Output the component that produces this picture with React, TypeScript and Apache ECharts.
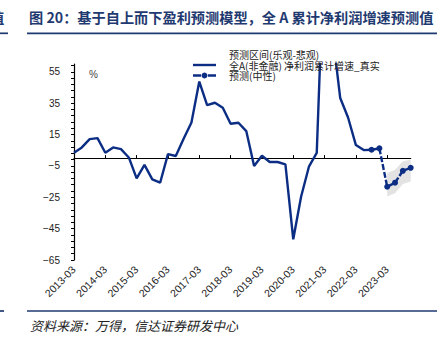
import React, { useEffect, useRef } from "react";
import * as echarts from "echarts";

const categories: string[] = [];
for (let y = 2013; y <= 2023; y++) {
  for (const m of ["03", "06", "09", "12"]) categories.push(`${y}-${m}`);
}

// 真实值 2013-03 .. 2022-09
const realValues: number[] = [
  3.4, 6.8, 12.1, 12.7, 3.4, 6.8, 5.7, 0.4, -12.9, -4.3, -13.6, -15.7,
  2.5, 1.3, 12.3, 22.7, 48.8, 33.8, 35.3, 32.1, 21.9, 22.5, 17.2, -5.1,
  1.5, -2.5, -2.5, -4.0, -51.8, -24.7, -5.5, 3.3, 140, 80, 38.3, 25.9,
  8.3, 5.1, 5.3,
];
// 预测(中性) 2022-09 .. 2023-12
const forecastStart = 38;
const forecastValues: number[] = [5.3, 6.2, -18.3, -15.7, -8.1, -6.2];
// 预测区间 2023-03 .. 2023-12
const bandStart = 40;
const bandLow: number[] = [-24.5, -22.5, -16.5, -15];
const bandHigh: number[] = [-9.5, -7.5, -2, -1];

const yLabels: number[] = [-65, -45, -25, -5, 15, 35, 55];

const NAVY = "#0b2d84";
const TITLE = "#1f3a70";
const nameBand = "预测区间(乐观-悲观)";
const nameReal = "全A(非金融) 净利润累计增速_真实";
const nameFc = "预测(中性)";

function pad(start: number, arr: number[]): (number | string)[] {
  return categories.map((_, i) =>
    i >= start && i < start + arr.length ? arr[i - start] : "-"
  );
}

const iconReal = "path://M0,0H23V2.4H0Z";
const iconFc =
  "path://M0,2.8H8V5.2H0Z M15,2.8H23V5.2H15Z M11.5,1A3,3 0 1,1 11.49,1Z";

export default function App() {
  const ref = useRef<HTMLDivElement>(null);
  useEffect(() => {
    document.body.style.margin = "0";
    const chart = echarts.init(ref.current!, null, { renderer: "svg" });
    const yTicks: number[] = [];
    for (let v = -65; v <= 60; v += 4) yTicks.push(v);
    const font = "'Liberation Sans', Arial, sans-serif";
    const cjk = "'Noto Sans CJK SC', sans-serif";
    chart.setOption({
      animation: false,
      grid: { left: 74, right: 29.3, top: 64, bottom: 78, containLabel: false },
      legend: {
        orient: "vertical",
        left: 193,
        top: 49.5,
        itemGap: 0.5,
        itemWidth: 23,
        itemHeight: 10,
        padding: 0,
        textStyle: { fontSize: 10, color: "#222", fontFamily: cjk, padding: [0, 0, 0, 8] },
        data: [
          { name: nameBand, icon: "none" },
          { name: nameReal, icon: iconReal },
          { name: nameFc, icon: iconFc },
        ],
      },
      xAxis: [
        {
          type: "category",
          data: categories,
          boundaryGap: false,
          axisLine: { show: false, onZero: false },
          axisTick: { show: false },
          axisLabel: {
            interval: 3,
            rotate: 45,
            fontSize: 10.5,
            color: "#222",
            fontFamily: font,
            margin: 8,
          },
          splitLine: { show: false },
        },
        {
          type: "category",
          data: categories,
          boundaryGap: false,
          position: "bottom",
          axisLine: { show: true, onZero: true, lineStyle: { color: "#000", width: 1.2 } },
          axisTick: { show: true, inside: true, interval: 3, length: 3, lineStyle: { color: "#000" } },
          axisLabel: { show: false },
          splitLine: { show: false },
        },
      ],
      yAxis: {
        type: "value",
        min: -65,
        max: 60,
        axisLine: { show: true, lineStyle: { color: "#000", width: 1.2 } },
        axisTick: { show: true, customValues: yTicks, length: 3, lineStyle: { color: "#000" } },
        axisLabel: {
          customValues: yLabels,
          fontSize: 10,
          color: "#222",
          fontFamily: font,
          margin: 14,
          formatter: (v: number) => String(v).replace("-", "\u2212"),
        },
        splitLine: { show: false },
      },
      graphic: [
        {
          type: "text",
          x: 29,
          y: 10,
          style: {
            text: "图 20：基于自上而下盈利预测模型，全 A 累计净利润增速预测值",
            fill: TITLE,
            font: `bold 14.2px ${cjk}`,
          },
        },
        {
          type: "text",
          x: -10,
          y: 10,
          style: { text: "值", fill: TITLE, font: `bold 14.2px ${cjk}` },
        },
        { type: "line", shape: { x1: 27, y1: 33.3, x2: 437, y2: 33.3 }, style: { stroke: TITLE, lineWidth: 1.7 } },
        { type: "line", shape: { x1: 0, y1: 33.3, x2: 8, y2: 33.3 }, style: { stroke: TITLE, lineWidth: 1.7 } },
        { type: "line", shape: { x1: 27, y1: 311, x2: 437, y2: 311 }, style: { stroke: TITLE, lineWidth: 1.7 } },
        { type: "line", shape: { x1: 0, y1: 311, x2: 4, y2: 311 }, style: { stroke: TITLE, lineWidth: 1.7 } },
        {
          type: "text",
          x: 30,
          y: 319,
          style: {
            text: "资料来源：万得，信达证券研发中心",
            fill: "#222",
            font: `italic 13px ${cjk}`,
          },
        },
        {
          type: "text",
          x: 89,
          y: 69,
          style: { text: "%", fill: "#444", font: `10px ${font}` },
        },
      ],
      series: [
        {
          name: "bandBase",
          type: "line",
          stack: "band",
          stackStrategy: "all",
          data: pad(bandStart, bandLow),
          symbol: "none",
          lineStyle: { opacity: 0 },
          areaStyle: { opacity: 0 },
          silent: true,
          z: 1,
        },
        {
          name: nameBand,
          type: "line",
          stack: "band",
          stackStrategy: "all",
          data: pad(bandStart, bandHigh.map((h, i) => +(h - bandLow[i]).toFixed(1))),
          symbol: "none",
          itemStyle: { color: "#d9d9d9" },
          lineStyle: { opacity: 0 },
          areaStyle: { color: "#e3e3e3", opacity: 1 },
          z: 1,
        },
        {
          name: nameReal,
          type: "line",
          data: pad(0, realValues),
          symbol: "none",
          itemStyle: { color: NAVY },
          lineStyle: { color: NAVY, width: 2.4 },
          z: 3,
        },
        {
          name: nameFc,
          type: "line",
          data: pad(forecastStart, forecastValues),
          symbol: "circle",
          symbolSize: 6,
          showSymbol: true,
          showAllSymbol: true,
          itemStyle: { color: NAVY },
          lineStyle: { color: NAVY, width: 2.4, type: [6, 2] },
          z: 4,
        },
      ],
    });
    return () => chart.dispose();
  }, []);
  return <div ref={ref} style={{ width: 440, height: 338 }} />;
}
